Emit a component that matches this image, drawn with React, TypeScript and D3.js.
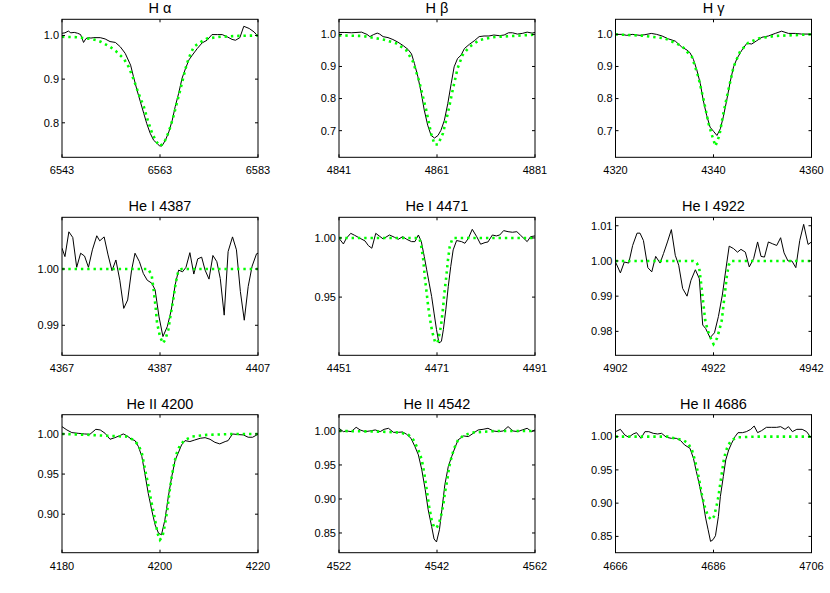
import React from "react";
import * as d3 from "d3";

type P = [number, number];

// ---------- Titles, axis ranges, ticks ----------
const titles = ["H \u03b1", "H \u03b2", "H \u03b3", "He I 4387", "He I 4471", "He I 4922", "He II 4200", "He II 4542", "He II 4686"];
const centers = [6563, 4861, 4340, 4387, 4471, 4922, 4200, 4542, 4686];
const yDomains: P[] = [
  [0.721, 1.037], [0.617, 1.047], [0.617, 1.047],
  [0.98467, 1.00918], [0.9008, 1.01745], [0.9732, 1.0124],
  [0.852, 1.024], [0.821, 1.0239], [0.8255, 1.033],
];
const yTicks: number[][] = [
  [0.8, 0.9, 1.0], [0.7, 0.8, 0.9, 1.0], [0.7, 0.8, 0.9, 1.0],
  [0.99, 1.0], [0.95, 1.0], [0.98, 0.99, 1.0, 1.01],
  [0.9, 0.95, 1.0], [0.85, 0.9, 0.95, 1.0], [0.85, 0.9, 0.95, 1.0],
];
const yDecimals = [1, 1, 1, 2, 2, 2, 2, 2, 2];

// ---------- Observed spectra (black) ----------
const haObs: P[] = [[6543,1.005],[6543.6,1.006],[6544.3,1.010],[6544.8,1.006],[6545.5,1.007],[6546.2,1.005],[6546.8,1.002],[6547.4,0.984],[6547.9,0.993],[6548.4,0.995],[6548.9,0.994],[6549.5,0.995],[6550.8,0.995],[6551.8,0.992],[6552.8,0.986],[6553.9,0.984],[6554.9,0.974],[6555.9,0.959],[6557,0.932],[6557.6,0.905],[6558.3,0.875],[6559,0.848],[6559.7,0.821],[6560.3,0.798],[6561,0.776],[6561.7,0.760],[6562.4,0.753],[6562.9,0.747],[6563.4,0.747],[6564.1,0.760],[6564.8,0.779],[6565.5,0.806],[6566.1,0.837],[6566.8,0.867],[6567.5,0.902],[6568.2,0.924],[6568.9,0.944],[6569.6,0.955],[6570.6,0.970],[6571.6,0.983],[6572.6,0.989],[6573.6,1.002],[6574.7,1.002],[6575.7,1.002],[6576.7,0.997],[6577.7,0.991],[6578.4,0.989],[6579.3,0.995],[6580.1,1.021],[6581.2,1.016],[6582.2,1.008],[6583,0.998]];
const hbObs: P[] = [[4841,1.006],[4842.2,1.006],[4843.6,1.005],[4845.6,1.007],[4846.7,1.0],[4847.3,0.993],[4848,0.999],[4848.8,1.004],[4849.3,1.001],[4850,0.993],[4851,0.990],[4852,0.984],[4853,0.976],[4854.1,0.965],[4855.1,0.953],[4855.8,0.939],[4856.4,0.909],[4857.1,0.868],[4857.8,0.816],[4858.4,0.764],[4859.1,0.717],[4859.8,0.685],[4860.5,0.677],[4861.2,0.685],[4861.8,0.701],[4862.5,0.732],[4863.2,0.784],[4863.9,0.847],[4864.5,0.899],[4865.2,0.925],[4865.9,0.935],[4866.6,0.956],[4867.6,0.969],[4868.6,0.980],[4869.6,0.993],[4870.6,0.995],[4871.6,0.995],[4872.6,0.998],[4873.7,0.996],[4874.7,0.998],[4875.6,1.005],[4876.4,1.005],[4877.4,1.001],[4878.4,1.003],[4879.4,1.007],[4880.4,1.004],[4881,1.006]];
const hgObs: P[] = [[4320,1.0],[4321.3,1.0],[4322.3,0.997],[4323.4,1.0],[4325,0.997],[4326,0.999],[4327.3,1.003],[4328.4,1.0],[4329.5,0.995],[4330.8,0.986],[4332.2,0.979],[4333.5,0.961],[4334.6,0.951],[4335.2,0.943],[4335.9,0.922],[4336.6,0.889],[4337.3,0.847],[4337.9,0.795],[4338.6,0.748],[4339.3,0.711],[4340,0.698],[4340.7,0.685],[4341.4,0.706],[4342,0.743],[4342.7,0.795],[4343.4,0.852],[4344.1,0.899],[4344.8,0.925],[4345.8,0.951],[4346.8,0.972],[4347.8,0.970],[4348.8,0.980],[4349.9,0.991],[4351.2,0.995],[4352.6,1.003],[4353.9,1.010],[4355.3,1.003],[4356.7,1.003],[4358,1.001],[4360,1.001]];
const he4387Obs: P[] = [[4367,1.0037],[4367.6,1.0022],[4368.4,1.0066],[4369.2,1.0056],[4370,1.0003],[4370.8,1.0028],[4371.6,1.0023],[4372.4,1.0003],[4373.2,1.0034],[4374.1,1.0059],[4374.7,1.0050],[4375.6,1.0057],[4376.4,1.0025],[4377.2,0.9997],[4378,1.0016],[4378.8,0.998],[4379.6,0.993],[4380.4,0.9945],[4381.2,0.9998],[4381.9,1.0028],[4382.8,1.0013],[4383.6,0.9992],[4384.4,0.998],[4385.3,0.9975],[4386,0.9963],[4386.8,0.9915],[4387.6,0.988],[4388.5,0.9898],[4389.3,0.9927],[4390.1,0.9972],[4390.8,0.9998],[4391.6,0.9995],[4392.3,1.0003],[4393.1,1.0029],[4393.9,0.9991],[4394.7,1.0018],[4395.5,1.0021],[4396.2,0.9998],[4397,0.9982],[4397.8,1.0024],[4398.6,1.0013],[4399.3,0.9983],[4400.1,0.9918],[4400.9,1.0031],[4401.8,1.0057],[4402.6,1.0034],[4403.4,0.996],[4404.2,0.9909],[4405,0.9969],[4405.8,1.0005],[4406.7,1.0027],[4407,1.0028]];
const he4471Obs: P[] = [[4451,0.9997],[4451.9,0.9949],[4452.5,0.9997],[4453.4,1.0039],[4454.2,1.0022],[4455.3,0.9997],[4456.3,0.9975],[4457,0.9935],[4457.7,0.9913],[4458.5,1.0039],[4459.2,1.0017],[4460,0.9992],[4461.3,1.0025],[4462.3,1.0006],[4463.1,0.9989],[4464,1.0011],[4464.8,0.9989],[4465.8,0.9969],[4466.5,0.9969],[4467.2,1.0025],[4467.8,0.9969],[4468.4,0.9843],[4468.9,0.973],[4469.4,0.9618],[4469.9,0.9506],[4470.4,0.9365],[4470.9,0.9225],[4471.4,0.9112],[4471.9,0.9126],[4472.3,0.9225],[4472.8,0.9393],[4473.3,0.959],[4473.8,0.9758],[4474.3,0.9899],[4475,0.9978],[4476,0.9969],[4476.7,0.9955],[4477.4,0.9997],[4478.2,1.0073],[4479.1,1.0011],[4479.9,0.9947],[4480.8,0.9961],[4481.4,0.9966],[4482.3,1.0025],[4483.1,1.0017],[4483.8,1.0025],[4484.6,1.0062],[4485.5,1.0053],[4486.4,1.0048],[4487.3,1.0053],[4488,1.0025],[4488.7,0.9997],[4489.4,0.9969],[4490.1,1.0011],[4491,1.0017]];
const he4922Obs: P[] = [[4902,0.9997],[4903,0.9966],[4903.8,0.9997],[4904.7,0.9994],[4905.5,1.0044],[4906.4,1.0079],[4907,1.0079],[4907.7,1.0058],[4908.6,0.9981],[4909.4,0.9969],[4910.2,1.0013],[4911.1,0.9994],[4911.8,1.0021],[4912.6,1.0054],[4913.4,1.0089],[4914.2,1.0016],[4914.9,0.9988],[4915.7,0.9922],[4916.6,0.99],[4917.4,0.9945],[4918.3,0.9975],[4919.1,0.995],[4919.8,0.9818],[4920.4,0.9808],[4921.3,0.9782],[4922.2,0.9796],[4923,0.9842],[4923.8,0.9903],[4924.5,0.9974],[4925.2,1.0042],[4926.1,1.0035],[4926.9,1.0025],[4927.6,1.0033],[4928.5,1.0025],[4929.3,0.9983],[4930.2,1.0007],[4931,1.0054],[4931.7,1.0013],[4932.4,1.0011],[4933.2,1.0054],[4934,1.0049],[4934.9,1.0044],[4935.7,1.0066],[4936.4,1.0023],[4937.2,1.0],[4938,1.0],[4938.8,0.9981],[4939.6,1.0058],[4940.4,1.0104],[4941.3,1.0047],[4942,1.0054]];
const heii4200Obs: P[] = [[4180,1.0091],[4181,1.005],[4182,1.0017],[4183.3,1.0008],[4184.6,1.0],[4185.7,0.9996],[4186.9,1.0058],[4187.8,1.005],[4188.8,1.0008],[4189.8,0.9934],[4190.8,0.9954],[4191.8,0.9979],[4192.5,1.0],[4193.2,0.9979],[4194.2,0.9934],[4194.9,0.9917],[4195.6,0.9842],[4196.3,0.9718],[4196.9,0.951],[4197.6,0.9261],[4198.3,0.9054],[4199,0.8867],[4199.7,0.8763],[4200.3,0.8743],[4201,0.8929],[4201.7,0.922],[4202.4,0.9469],[4203.1,0.9676],[4203.7,0.9759],[4204.4,0.9863],[4205.1,0.9917],[4206.1,0.9905],[4207.1,0.9925],[4208.2,0.9946],[4209.2,0.9954],[4210.2,0.9934],[4211.2,0.9896],[4212.2,0.9876],[4213.3,0.9905],[4213.9,0.9917],[4214.8,1.0],[4216,0.9992],[4217,0.9988],[4218,0.9959],[4218.9,0.9959],[4220,0.9996]];
const heii4542Obs: P[] = [[4522,1.0039],[4522.9,0.999],[4523.6,1.0],[4524.5,0.999],[4525.5,1.0054],[4526.3,1.0015],[4527.3,0.999],[4528.3,1.0],[4529.4,1.0015],[4530.4,0.999],[4531.2,1.0024],[4532.1,1.0039],[4533.1,0.998],[4534.1,0.998],[4535,0.9985],[4535.8,0.9951],[4536.7,0.9892],[4537.5,0.977],[4538.2,0.9648],[4538.9,0.9428],[4539.6,0.9135],[4540.2,0.8842],[4540.9,0.8597],[4541.4,0.8412],[4541.9,0.8368],[4542.5,0.8548],[4543,0.8842],[4543.6,0.9208],[4544.3,0.9477],[4545,0.9624],[4545.7,0.9761],[4546.3,0.9868],[4547.4,0.9927],[4548.4,0.9917],[4549.4,0.9966],[4550.4,1.0015],[4551.4,1.0024],[4552.4,1.0039],[4553.5,1.0],[4554.5,0.999],[4555.5,1.0],[4556.5,1.0064],[4557.5,1.0],[4558.5,0.999],[4559.4,1.0015],[4560.4,1.0039],[4561.3,0.999],[4562,1.0015]];
const heii4686Obs: P[] = [[4666,1.0075],[4667,1.011],[4667.9,1.0025],[4668.7,0.999],[4669.6,1.004],[4670.3,1.006],[4671.2,0.9975],[4672,1.0075],[4672.8,1.0075],[4673.7,1.005],[4674.6,1.004],[4675.4,1.005],[4676.4,0.999],[4677.4,0.9975],[4678.4,0.9975],[4679.3,0.994],[4680.1,0.9875],[4681.2,0.9825],[4681.9,0.9675],[4682.5,0.9475],[4683.2,0.925],[4683.9,0.9],[4684.4,0.8775],[4684.9,0.86],[4685.4,0.8425],[4685.9,0.845],[4686.4,0.851],[4687,0.88],[4687.4,0.91],[4688,0.94],[4688.5,0.965],[4689.1,0.98],[4689.7,0.99],[4690.4,1.0],[4691,1.006],[4691.9,1.006],[4692.7,1.0075],[4693.6,1.011],[4694.3,1.016],[4695,1.006],[4695.8,1.009],[4696.8,1.014],[4697.8,1.014],[4698.9,1.014],[4699.7,1.015],[4700.6,1.011],[4701.3,1.015],[4702.1,1.0075],[4703,1.011],[4704.1,1.011],[4705,1.0075],[4706,0.9975]];

// ---------- Model profiles (green dotted) ----------
const haModel: P[] = [[6543,0.997],[6546,0.996],[6549,0.992],[6550.1,0.989],[6551,0.985],[6552.8,0.974],[6554,0.964],[6555.6,0.947],[6556.6,0.928],[6557.6,0.900],[6558.6,0.868],[6559.7,0.837],[6560.5,0.806],[6561.4,0.776],[6562.2,0.758],[6562.9,0.747],[6563.7,0.752],[6564.4,0.768],[6565.1,0.790],[6565.8,0.817],[6566.5,0.848],[6567.2,0.878],[6567.9,0.910],[6568.5,0.936],[6569.2,0.957],[6569.9,0.974],[6571.3,0.985],[6572.6,0.993],[6575.4,0.997],[6579,0.999],[6583,1.0]];
const hbModel: P[] = [[4841,0.997],[4845.9,0.995],[4850,0.984],[4852.7,0.972],[4854.7,0.951],[4856.1,0.915],[4857.4,0.852],[4858.8,0.764],[4859.8,0.691],[4860.5,0.657],[4861.2,0.657],[4862.2,0.691],[4863.2,0.753],[4864.2,0.826],[4865.2,0.894],[4866.2,0.935],[4867.6,0.961],[4869.6,0.982],[4872.3,0.991],[4876.4,0.995],[4881,0.999]];
const hgModel: P[] = [[4320,1.0],[4325.4,0.996],[4330.1,0.9875],[4333.5,0.964],[4335.6,0.930],[4336.9,0.868],[4338,0.795],[4339,0.722],[4339.7,0.685],[4340.4,0.652],[4341.2,0.685],[4342,0.753],[4343.1,0.831],[4344.1,0.899],[4345.4,0.946],[4347.1,0.974],[4349.2,0.9875],[4352.6,0.995],[4360,1.0]];
const he4387Model: P[] = [[4367,1.0],[4384.6,1.0],[4385.3,0.9989],[4385.7,0.9963],[4386.1,0.9933],[4386.4,0.9904],[4387,0.988],[4387.6,0.9868],[4388.1,0.9875],[4388.7,0.9892],[4389.1,0.9915],[4389.7,0.9945],[4390.2,0.9975],[4390.7,0.9995],[4391.4,1.0],[4407,1.0]];
const he4471Model: P[] = [[4451,1.0],[4467.4,1.0],[4467.8,0.9927],[4468.2,0.9815],[4468.5,0.9674],[4468.9,0.9534],[4469.2,0.9421],[4469.6,0.9309],[4470,0.9211],[4470.6,0.9121],[4471.1,0.9112],[4471.4,0.9169],[4471.8,0.9253],[4472.2,0.9393],[4472.5,0.9534],[4472.9,0.9674],[4473.2,0.9801],[4473.6,0.9927],[4474.1,0.9989],[4474.4,1.0],[4491,1.0]];
const he4922Model: P[] = [[4902,1.0],[4917.9,1.0],[4918.6,0.9994],[4919.1,0.9978],[4919.4,0.9945],[4919.7,0.9908],[4920,0.987],[4920.3,0.9832],[4920.8,0.9804],[4921.3,0.9785],[4922,0.9764],[4922.7,0.978],[4923.2,0.9804],[4923.7,0.9832],[4924,0.987],[4924.4,0.9917],[4924.7,0.9955],[4925.1,0.9988],[4925.6,1.0],[4942,1.0]];
const heii4200Model: P[] = [[4180,1.0],[4185.7,0.9988],[4189.8,0.9975],[4193.2,0.9967],[4194.6,0.9925],[4195.6,0.9863],[4196.3,0.9759],[4196.9,0.9573],[4197.6,0.9365],[4198.3,0.9137],[4199,0.8929],[4199.5,0.8763],[4200,0.868],[4200.5,0.8722],[4201,0.8867],[4201.5,0.9054],[4201.9,0.9261],[4202.4,0.9469],[4202.9,0.9635],[4203.4,0.9759],[4204.1,0.9863],[4205.1,0.9925],[4206.5,0.9967],[4209.5,0.9988],[4215,1.0],[4220,1.0]];
const heii4542Model: P[] = [[4522,1.0],[4530.4,0.999],[4534.5,0.9976],[4536.2,0.9941],[4537.2,0.9868],[4538.2,0.9721],[4538.9,0.9575],[4539.4,0.9379],[4539.9,0.9135],[4540.4,0.889],[4540.9,0.8695],[4541.4,0.8587],[4541.9,0.8573],[4542.4,0.8646],[4542.8,0.8744],[4543.3,0.8915],[4543.6,0.9086],[4544.1,0.9282],[4544.5,0.9477],[4545,0.9624],[4545.5,0.9746],[4546.3,0.9868],[4547.4,0.9932],[4549.1,0.9976],[4554.1,1.0],[4562,1.0]];
const heii4686Model: P[] = [[4666,1.0],[4676.7,1.0],[4678.1,0.9975],[4679.8,0.995],[4680.8,0.99],[4681.6,0.98],[4682.1,0.9675],[4682.7,0.95],[4683.2,0.93],[4683.7,0.91],[4684.2,0.895],[4684.9,0.88],[4685.6,0.875],[4686.1,0.88],[4686.6,0.895],[4687,0.91],[4687.3,0.925],[4687.7,0.945],[4688.1,0.965],[4688.5,0.9775],[4689,0.9875],[4689.7,0.995],[4691,0.999],[4694.4,1.0],[4706,1.0]];

const observed = [haObs, hbObs, hgObs, he4387Obs, he4471Obs, he4922Obs, heii4200Obs, heii4542Obs, heii4686Obs];
const models = [haModel, hbModel, hgModel, he4387Model, he4471Model, he4922Model, heii4200Model, heii4542Model, heii4686Model];

// ---------- Layout ----------
const W = 830, H = 593;
const colLeft = [62, 339, 615.5];
const rowTop = [19.3, 217.3, 414.7];
const PW = 196, PH = 138;
const FONT = "'Liberation Sans', Arial, Helvetica, sans-serif";
const TICK = 3;

function Panel({ i }: { i: number }) {
  const left = colLeft[i % 3];
  const top = rowTop[Math.floor(i / 3)];
  const c = centers[i];
  const xTicks = [c - 20, c, c + 20];
  const x = d3.scaleLinear().domain([c - 20, c + 20]).range([0, PW]);
  const y = d3.scaleLinear().domain(yDomains[i]).range([PH, 0]);
  const line = d3.line<P>().x((d) => x(d[0])).y((d) => y(d[1]));
  const fmt = d3.format(`.${yDecimals[i]}f`);
  const clipId = `clip${i}`;
  return (
    <g transform={`translate(${left},${top})`}>
      <defs>
        <clipPath id={clipId}>
          <rect x={0} y={0} width={PW} height={PH} />
        </clipPath>
      </defs>
      <g clipPath={`url(#${clipId})`}>
        <path d={line(observed[i]) || ""} fill="none" stroke="#000" strokeWidth={1} />
        <path d={line(models[i]) || ""} fill="none" stroke="#00ff00" strokeWidth={2.6} strokeDasharray="2.4 3.9" />
      </g>
      <rect x={0} y={0} width={PW} height={PH} fill="none" stroke="#000" strokeWidth={1} />
      {xTicks.map((t) => (
        <g key={`x${t}`}>
          <line x1={x(t)} x2={x(t)} y1={PH} y2={PH - TICK} stroke="#000" />
          <line x1={x(t)} x2={x(t)} y1={0} y2={TICK} stroke="#000" />
          <text x={x(t)} y={PH + 17} textAnchor="middle" fontSize={11} fontWeight={400} fontFamily={FONT} fill="#000">{t}</text>
        </g>
      ))}
      {yTicks[i].map((t) => (
        <g key={`y${t}`}>
          <line x1={0} x2={TICK} y1={y(t)} y2={y(t)} stroke="#000" />
          <line x1={PW} x2={PW - TICK} y1={y(t)} y2={y(t)} stroke="#000" />
          <text x={-3} y={y(t)} dy="0.35em" textAnchor="end" fontSize={11} fontWeight={400} fontFamily={FONT} fill="#000">{fmt(t)}</text>
        </g>
      ))}
      <text x={PW / 2} y={-6} textAnchor="middle" fontSize={14.5} fontWeight={400} fontFamily={FONT} fill="#000">{titles[i]}</text>
    </g>
  );
}

export default function App() {
  return (
    <svg width={W} height={H} style={{ position: "absolute", left: 0, top: 0, background: "#fff" }}>
      <rect width={W} height={H} fill="#fff" />
      {titles.map((_, i) => (
        <Panel key={i} i={i} />
      ))}
    </svg>
  );
}
